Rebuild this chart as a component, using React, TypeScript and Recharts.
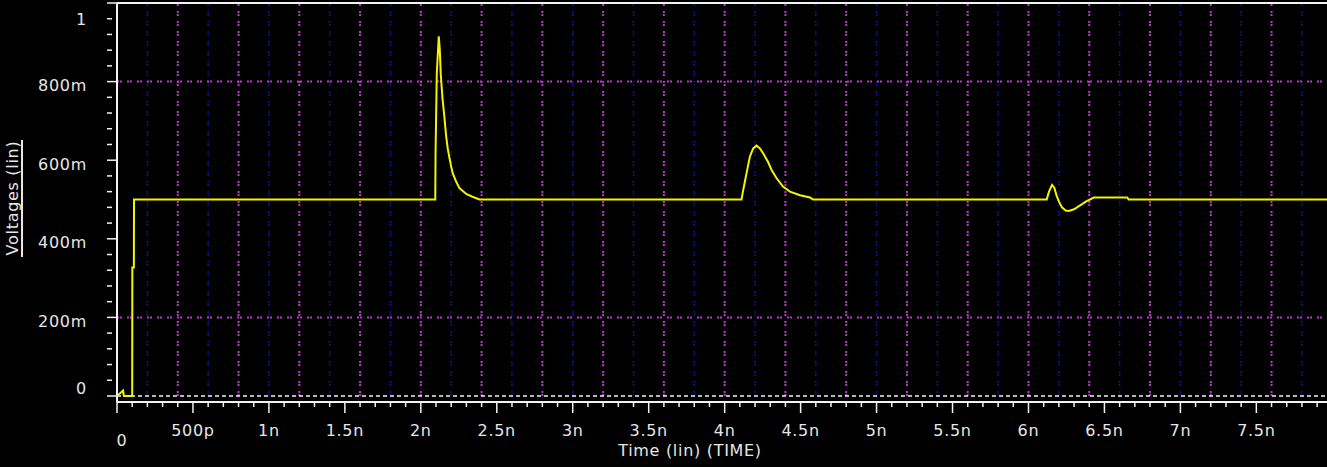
import React from 'react'
import { LineChart, Line, XAxis, YAxis, ReferenceLine } from 'recharts'

// transient waveform, time in ns, voltage in V
const timeNs = [
  0, 0.04, 0.045, 0.1, 0.101, 0.111, 0.112,
  2.095, 2.097, 2.105, 2.118, 2.125, 2.131, 2.142, 2.155, 2.167, 2.177, 2.189, 2.2, 2.21, 2.233, 2.254, 2.299, 2.34, 2.386,
  4.111, 4.122, 4.133, 4.144, 4.155, 4.166, 4.177, 4.188, 4.21, 4.232, 4.254, 4.285, 4.309, 4.342, 4.384, 4.43, 4.496, 4.562, 4.583,
  6.12, 6.135, 6.155, 6.17, 6.185, 6.2, 6.22, 6.245, 6.265, 6.3, 6.34, 6.38, 6.43, 6.65, 6.66, 7.965
]
const volts = [
  0, 0.014, 0, 0, 0.327, 0.327, 0.5,
  0.5, 0.62, 0.82, 0.915, 0.88, 0.82, 0.76, 0.71, 0.66, 0.63, 0.605, 0.583, 0.567, 0.545, 0.529, 0.514, 0.507, 0.5,
  0.5, 0.524, 0.545, 0.567, 0.588, 0.609, 0.62, 0.63, 0.637, 0.63, 0.617, 0.596, 0.575, 0.554, 0.533, 0.52, 0.511, 0.505, 0.5,
  0.5, 0.52, 0.537, 0.53, 0.51, 0.495, 0.48, 0.472, 0.471, 0.475, 0.485, 0.495, 0.505, 0.505, 0.5, 0.5
]

const xMajorTicks = [0, 0.5, 1, 1.5, 2, 2.5, 3, 3.5, 4, 4.5, 5, 5.5, 6, 6.5, 7, 7.5]
const xTickLabels = ['0', '500p', '1n', '1.5n', '2n', '2.5n', '3n', '3.5n', '4n', '4.5n', '5n', '5.5n', '6n', '6.5n', '7n', '7.5n']
const yTicks = [
  0, 0.04, 0.08, 0.12, 0.16, 0.2, 0.24, 0.28, 0.32, 0.36, 0.4, 0.44, 0.48,
  0.52, 0.56, 0.6, 0.64, 0.68, 0.72, 0.76, 0.8, 0.84, 0.88, 0.92, 0.96, 1
]
const yMajorTicks = [0, 0.2, 0.4, 0.6, 0.8, 1]
const yTickLabels = ['0', '200m', '400m', '600m', '800m', '1']
const hGridValues = [0.2, 0.8]

// minor ticks every 100p, grid every 200p
const xTicks = Array.from({ length: 80 }, (_, i) => i / 10)
const gridTimes = Array.from({ length: 40 }, (_, i) => i / 5)

const data = timeNs.map((t, i) => ({ t, v: volts[i] }))

const AXIS = '#f2f2f2'
const TEXT = '#e6e6e6'
const PURPLE = '#b43cc4'
const BLUE = '#14148c'
const YELLOW = '#f4f400'
const FONT = '"DejaVu Sans", sans-serif'

const findIdx = (arr: number[], v: number) => arr.findIndex(a => Math.abs(a - v) < 1e-6)

const XTick = ({ x, y, payload }: any) => {
  const i = findIdx(xMajorTicks, payload.value)
  const major = i >= 0
  return (
    <g>
      <line x1={x} x2={x} y1={y} y2={y + (major ? 11 : 5)} stroke={AXIS} strokeWidth={1.5} />
      {major && (
        <text
          x={x + (i === 0 ? 5 : 0)}
          y={y + (i === 0 ? 38 : 28)}
          textAnchor="middle"
          dominantBaseline="central"
          fill={TEXT}
          fontSize={16}
          fontFamily={FONT}
          letterSpacing={0.7}
        >
          {xTickLabels[i]}
        </text>
      )}
    </g>
  )
}

const YTick = ({ x, y, payload }: any) => {
  const i = findIdx(yMajorTicks, payload.value)
  const major = i >= 0
  const dy = i === 5 ? 16 : i === 0 ? -7 : 4
  return (
    <g>
      <line x1={x - 10} x2={major ? x : x - 5} y1={y} y2={y} stroke={AXIS} strokeWidth={1.5} />
      {major && (
        <text
          x={x - 30}
          y={y + dy}
          textAnchor="end"
          dominantBaseline="central"
          fill={TEXT}
          fontSize={16}
          fontFamily={FONT}
          letterSpacing={0.7}
        >
          {yTickLabels[i]}
        </text>
      )}
    </g>
  )
}

const XTitle = ({ viewBox }: any) => (
  <text
    x={viewBox.x + 573}
    y={viewBox.y + 48}
    textAnchor="middle"
    dominantBaseline="central"
    fill={TEXT}
    fontSize={16}
    fontFamily={FONT}
    letterSpacing={0.7}
  >
    Time (lin) (TIME)
  </text>
)

const YTitle = ({ viewBox }: any) => {
  const cx = viewBox.x + 12
  const cy = viewBox.y + 195
  return (
    <g>
      <text
        x={cx}
        y={cy}
        transform={`rotate(-90, ${cx}, ${cy})`}
        textAnchor="middle"
        dominantBaseline="central"
        fill={TEXT}
        fontSize={16}
        fontFamily={FONT}
        letterSpacing={0.7}
      >
        Voltages (lin)
      </text>
      <line x1={cx + 10} x2={cx + 10} y1={cy - 58} y2={cy + 59} stroke={TEXT} strokeWidth={2} />
    </g>
  )
}

export default function App() {
  return (
    <div style={{ position: 'absolute', left: 0, top: 0, width: 1327, height: 467, background: '#000' }}>
      <LineChart width={1327} height={467} data={data} margin={{ top: 3, right: 0, bottom: 0, left: 0 }}>
        <XAxis
          dataKey="t"
          type="number"
          domain={[0, 7.965]}
          allowDataOverflow
          ticks={xTicks}
          interval={0}
          height={65}
          tickSize={0}
          tickMargin={0}
          tickLine={false}
          axisLine={{ stroke: AXIS, strokeWidth: 2 }}
          tick={<XTick />}
          label={<XTitle />}
        />
        <YAxis
          type="number"
          domain={[-0.01527, 1]}
          allowDataOverflow
          ticks={yTicks}
          interval={0}
          width={117}
          tickSize={0}
          tickMargin={0}
          tickLine={false}
          axisLine={{ stroke: AXIS, strokeWidth: 2 }}
          tick={<YTick />}
          label={<YTitle />}
        />
        {gridTimes.map((g, i) => (
          <ReferenceLine
            key={`vg${i}`}
            segment={[{ x: g, y: 0 }, { x: g, y: 1 }]}
            stroke={i % 2 === 0 ? PURPLE : BLUE}
            strokeWidth={i % 2 === 0 ? 2 : 1.5}
            strokeDasharray="2 1 2 5"
          />
        ))}
        {hGridValues.map((h, i) => (
          <ReferenceLine key={`hg${i}`} y={h} stroke={PURPLE} strokeWidth={2} strokeDasharray="2 1 2 5" />
        ))}
        <ReferenceLine y={0} stroke={AXIS} strokeWidth={1.5} strokeDasharray="4 3" />
        <ReferenceLine y={1} stroke={AXIS} strokeWidth={2} />
        <Line
          type="linear"
          dataKey="v"
          stroke={YELLOW}
          strokeWidth={2}
          dot={false}
          activeDot={false}
          isAnimationActive={false}
        />
      </LineChart>
    </div>
  )
}
